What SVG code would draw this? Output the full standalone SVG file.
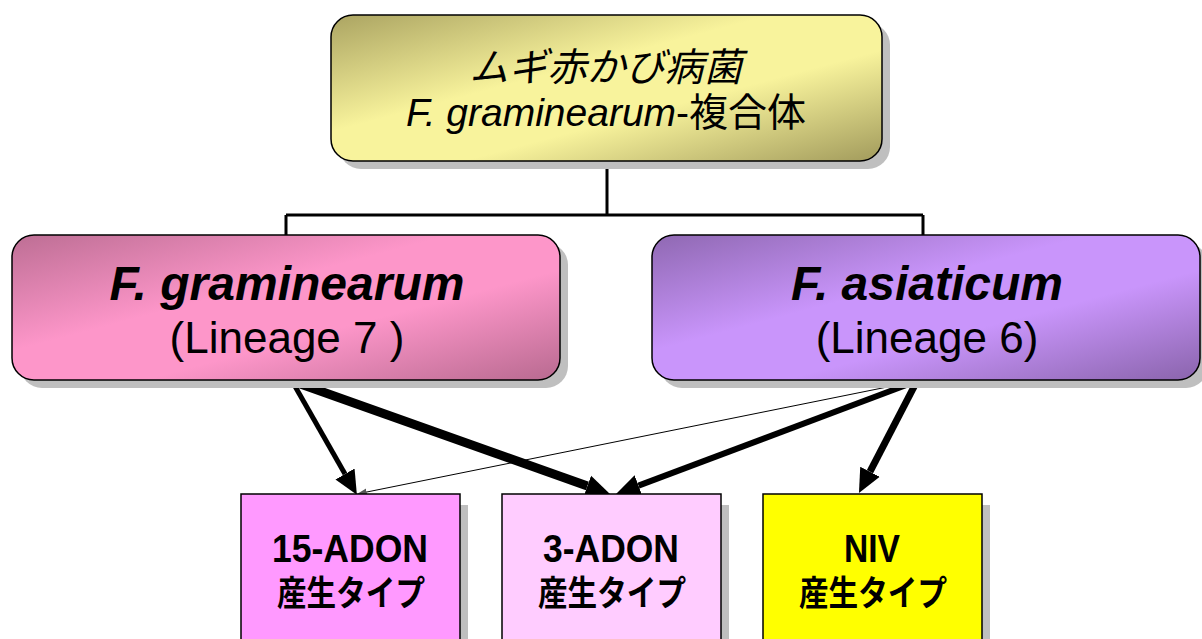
<svg xmlns="http://www.w3.org/2000/svg" width="1202" height="639" viewBox="0 0 1202 639">
<style>
.box{stroke:#000;stroke-width:1.5}
.shadow{fill:#BFBFBF}
.jp{font-family:"Liberation Sans","Noto Sans CJK JP",sans-serif;fill:#000;text-anchor:middle}
.nar{font-family:"Liberation Sans","Noto Sans CJK JP",sans-serif;font-weight:bold;fill:#000;text-anchor:middle}
.tree{stroke:#000;stroke-width:3;fill:none}
.arr{stroke:#000;fill:none}
</style>
<defs>
<linearGradient id="gTop" x1="0" y1="0" x2="1" y2="1">
<stop offset="0" stop-color="#ABA462"/>
<stop offset="0.4" stop-color="#F8F39C"/>
<stop offset="0.62" stop-color="#F8F39C"/>
<stop offset="1" stop-color="#A29B5C"/>
</linearGradient>
<linearGradient id="gLeft" x1="0" y1="0" x2="1" y2="1">
<stop offset="0" stop-color="#BD6E94"/>
<stop offset="0.4" stop-color="#FD96C9"/>
<stop offset="0.62" stop-color="#FD96C9"/>
<stop offset="1" stop-color="#B86A90"/>
</linearGradient>
<linearGradient id="gRight" x1="0" y1="0" x2="1" y2="1">
<stop offset="0" stop-color="#8F68B2"/>
<stop offset="0.4" stop-color="#C995FB"/>
<stop offset="0.62" stop-color="#C995FB"/>
<stop offset="1" stop-color="#8A64AC"/>
</linearGradient>
<marker id="ah" viewBox="0 -12 26 24" markerWidth="26" markerHeight="24" refX="0" refY="0" orient="auto" markerUnits="userSpaceOnUse">
<path d="M0,-11 L24,0 L0,11 z" fill="#000"/>
</marker>
<marker id="ahs" viewBox="0 -5 11 10" markerWidth="11" markerHeight="10" refX="0" refY="0" orient="auto" markerUnits="userSpaceOnUse">
<path d="M0,-3.5 L10,0 L0,3.5 z" fill="#555"/>
</marker>
</defs>

<g id="connectors">
<path class="tree" d="M607,161 V215 M286,215 H923 M286,215 V235 M923,215 V235"/>
<line class="arr" x1="917" y1="381" x2="366.8" y2="492" stroke="#666" stroke-width="1" marker-end="url(#ahs)"/>
<line class="arr" x1="292" y1="381" x2="345" y2="474" stroke-width="5" marker-end="url(#ah)"/>
<line class="arr" x1="292" y1="381" x2="587.4" y2="486" stroke-width="9" marker-end="url(#ah)"/>
<line class="arr" x1="917" y1="381" x2="638.5" y2="485.6" stroke-width="6" marker-end="url(#ah)"/>
<line class="arr" x1="917" y1="381" x2="870" y2="471.7" stroke-width="7" marker-end="url(#ah)"/>
</g>

<g id="node-complex">
<rect class="shadow" x="339" y="23" width="551" height="146" rx="22"/>
<rect class="box" x="331" y="15" width="551" height="146" rx="22" fill="url(#gTop)"/>
<text class="jp" x="606" y="81" font-size="39" font-style="italic">ムギ赤かび病菌</text>
<text class="jp" x="606" y="126" font-size="39"><tspan font-style="italic">F. graminearum</tspan>-複合体</text>
</g>

<g id="node-graminearum">
<rect class="shadow" x="20" y="243" width="548" height="145" rx="22"/>
<rect class="box" x="12" y="235" width="548" height="145" rx="22" fill="url(#gLeft)"/>
<text class="jp" x="287" y="300" font-size="48" font-weight="bold" font-style="italic">F. graminearum</text>
<text class="jp" x="287" y="353" font-size="44">(Lineage 7 )</text>
</g>

<g id="node-asiaticum">
<rect class="shadow" x="660" y="243" width="548" height="145" rx="22"/>
<rect class="box" x="652" y="235" width="548" height="145" rx="22" fill="url(#gRight)"/>
<text class="jp" x="927" y="300" font-size="48" font-weight="bold" font-style="italic">F. asiaticum</text>
<text class="jp" x="927" y="353" font-size="44">(Lineage 6)</text>
</g>

<g id="node-15adon">
<rect class="shadow" x="249" y="505" width="219" height="150"/>
<rect class="box" x="241" y="494" width="219" height="160" fill="#FF99FF"/>
<text class="nar" x="350" y="562" font-size="38" textLength="156" lengthAdjust="spacingAndGlyphs">15-ADON</text>
<text class="nar" x="351" y="606" font-size="35" textLength="148" lengthAdjust="spacingAndGlyphs">産生タイプ</text>
</g>

<g id="node-3adon">
<rect class="shadow" x="510" y="505" width="219" height="150"/>
<rect class="box" x="502" y="494" width="219" height="160" fill="#FFCCFF"/>
<text class="nar" x="611" y="562" font-size="38" textLength="136" lengthAdjust="spacingAndGlyphs">3-ADON</text>
<text class="nar" x="612" y="606" font-size="35" textLength="148" lengthAdjust="spacingAndGlyphs">産生タイプ</text>
</g>

<g id="node-niv">
<rect class="shadow" x="771" y="505" width="219" height="150"/>
<rect class="box" x="763" y="494" width="219" height="160" fill="#FFFF00"/>
<text class="nar" x="872" y="562" font-size="38" textLength="56" lengthAdjust="spacingAndGlyphs">NIV</text>
<text class="nar" x="873" y="606" font-size="35" textLength="148" lengthAdjust="spacingAndGlyphs">産生タイプ</text>
</g>
</svg>
